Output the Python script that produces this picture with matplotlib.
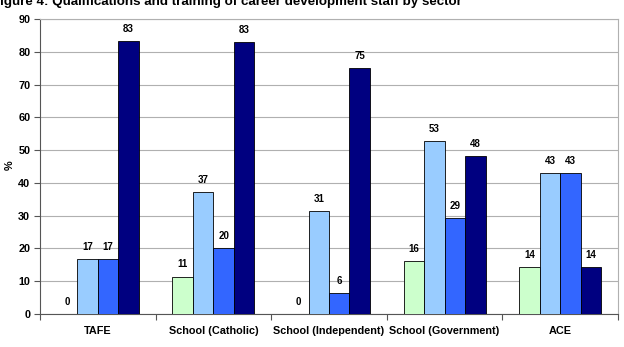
import numpy as np
from matplotlib import pyplot as plt

plt.rcParams['font.family'] = ['Liberation Sans', 'DejaVu Sans']
plt.rcParams['font.weight'] = 'bold'

sectors = ["TAFE", "School (Catholic)", "School (Independent)", "School (Government)", "ACE"]
series1 = [0, 11.4, 0, 16.2, 14.3]
series2 = [16.7, 37.1, 31.3, 52.7, 42.9]
series3 = [16.7, 20.0, 6.3, 29.3, 42.9]
series4 = [83.3, 82.9, 75.0, 48.1, 14.3]
colors = ["#ccffcc", "#99ccff", "#3366ff", "#000080"]

fig = plt.figure(figsize=(6.24, 3.47), dpi=100)
ax = fig.add_axes([40/624, 33/347, 578/624, 295/347])

x = np.arange(len(sectors))
w = 0.177
allSeries = [series1, series2, series3, series4]
for i, s in enumerate(allSeries):
    pos = x + (i - 1.5) * w
    ax.bar(pos, s, w, color=colors[i], edgecolor="black", linewidth=0.6, zorder=3)
    for px, v in zip(pos, s):
        ax.text(px, v + 2.2, f"{round(v)}", ha="center", va="bottom",
                fontsize=7, fontweight="bold")

ax.set_xlim(-0.5, len(sectors) - 0.5)
ax.set_ylim(0, 90)
ax.set_yticks(np.arange(0, 91, 10))
ax.yaxis.grid(True, color="#b0b0b0", linewidth=0.8, zorder=0)
ax.set_axisbelow(True)

# category labels between tick marks, like excel
ax.set_xticks(np.arange(-0.5, len(sectors), 1))
ax.set_xticklabels([])
ax.set_xticks(x, minor=True)
ax.set_xticklabels(sectors, minor=True)
ax.tick_params(axis="x", which="minor", length=0, pad=9, labelsize=7.8)
ax.tick_params(axis="x", which="major", length=4, width=0.8, color="#555555")
ax.tick_params(axis="y", length=4, width=0.8, color="#555555", labelsize=7.8, pad=3)

ax.spines["left"].set_color("#555555")
ax.spines["bottom"].set_color("#555555")
ax.spines["top"].set_color("#b0b0b0")
ax.spines["right"].set_color("#b0b0b0")
ax.spines["top"].set_linewidth(0.8)
ax.spines["right"].set_linewidth(0.8)

fig.text(10/624, 1 - 165/347, "%", rotation=90, ha="center", va="center", fontsize=7.8)
# title is cut off at the top edge in the source image
fig.text(-7.5/624, 1 - 1.5/347, "Figure 4: Qualifications and training of career development staff by sector",
         ha="left", va="center", fontsize=9.6, fontweight="bold")

fig.savefig("out.png", dpi=100)
